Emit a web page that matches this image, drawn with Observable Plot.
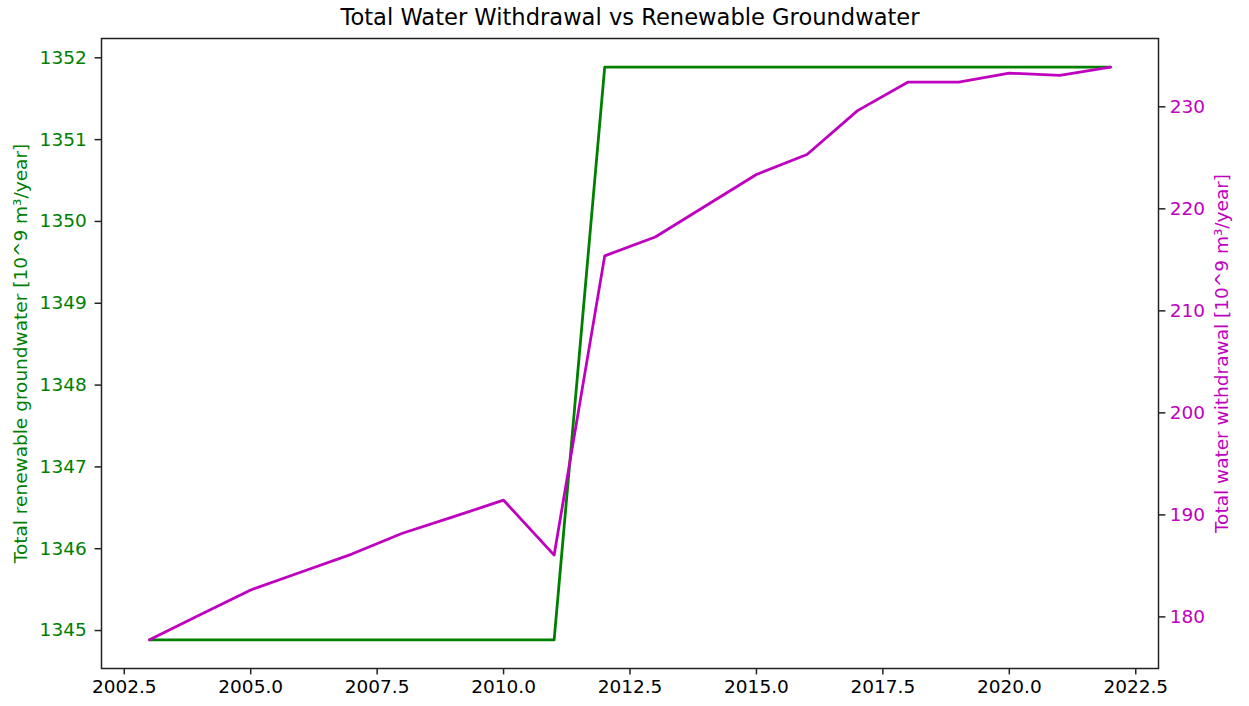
<!DOCTYPE html>
<html>
<head>
<meta charset="utf-8">
<script src="https://cdn.jsdelivr.net/npm/d3@7"></script>
<script src="https://cdn.jsdelivr.net/npm/@observablehq/plot@0.6"></script>
<style>
  html, body { margin: 0; padding: 0; background: #fff; }
  #chart svg { display: block; }
</style>
</head>
<body>
<div id="chart"></div>
<script>
// ---- Data ----
const years = [2003, 2004, 2005, 2006, 2007, 2008, 2009, 2010, 2011, 2012, 2013,
               2014, 2015, 2016, 2017, 2018, 2019, 2020, 2021, 2022];
const groundwater = [1344.886, 1344.886, 1344.886, 1344.886, 1344.886, 1344.886, 1344.886,
                     1344.886, 1344.886, 1351.886, 1351.886, 1351.886, 1351.886, 1351.886,
                     1351.886, 1351.886, 1351.886, 1351.886, 1351.886, 1351.886];
const withdrawal = [177.75, 180.2, 182.64, 184.4, 186.16, 188.2, 189.8, 191.44, 186.06,
                    215.39, 217.24, 220.3, 223.37, 225.33, 229.63, 232.43, 232.43,
                    233.3, 233.08, 233.89];
const xTicks = [2002.5, 2005.0, 2007.5, 2010.0, 2012.5, 2015.0, 2017.5, 2020.0, 2022.5];
const leftTicks = [1345, 1346, 1347, 1348, 1349, 1350, 1351, 1352];
const rightTicks = [180, 190, 200, 210, 220, 230];

const title = "Total Water Withdrawal vs Renewable Groundwater";
const leftLabel = "Total renewable groundwater [10^9 m³/year]";
const rightLabel = "Total water withdrawal [10^9 m³/year]";

// ---- Domains (matplotlib-style 5% margins) ----
const pad = (lo, hi) => [lo - (hi - lo) * 0.05, hi + (hi - lo) * 0.05];
const xDom = pad(d3.min(years), d3.max(years));
const lDom = pad(d3.min(groundwater), d3.max(groundwater));
const rDom = pad(d3.min(withdrawal), d3.max(withdrawal));

// map right-axis values into left-axis space
const toLeft = v => lDom[0] + (v - rDom[0]) * (lDom[1] - lDom[0]) / (rDom[1] - rDom[0]);
const toRight = v => rDom[0] + (v - lDom[0]) * (rDom[1] - rDom[0]) / (lDom[1] - lDom[0]);

const gwData = years.map((y, i) => ({year: y, value: groundwater[i]}));
const wdData = years.map((y, i) => ({year: y, value: toLeft(withdrawal[i])}));

const GREEN = "green";
const MAGENTA = "#bf00bf";
const FS = 18.5;
const TICK = 6.4;
const TPAD = 4.9;

const chart = Plot.plot({
  width: 1249,
  height: 706,
  marginLeft: 101,
  marginRight: 91,
  marginTop: 38,
  marginBottom: 38,
  style: {fontFamily: "DejaVu Sans", fontSize: FS + "px", background: "#fff", color: "#000"},
  x: {domain: xDom},
  y: {domain: lDom},
  marks: [
    // x axis
    Plot.axisX({ticks: xTicks, tickFormat: d => d.toFixed(1), tickSize: TICK, tickPadding: TPAD,
                strokeWidth: 1.5, fontSize: FS, label: null, fill: "#000", stroke: "#222"}),
    // left axis: ticks black, labels green
    Plot.axisY({ticks: leftTicks, anchor: "left", tickSize: TICK, tickPadding: TPAD + 3.5,
                tickFormat: d => String(d), label: null, strokeWidth: 1.5, stroke: "#222",
                fill: GREEN, fontSize: FS}),
    // right axis: ticks black, labels magenta
    Plot.axisY({ticks: rightTicks.map(toLeft), anchor: "right", tickSize: TICK, tickPadding: TPAD,
                tickFormat: d => String(Math.round(toRight(d))), label: null,
                strokeWidth: 1.5, stroke: "#222", fill: MAGENTA, fontSize: FS}),
    // lines
    Plot.line(gwData, {x: "year", y: "value", stroke: GREEN, strokeWidth: 2.8}),
    Plot.line(wdData, {x: "year", y: "value", stroke: MAGENTA, strokeWidth: 2.8}),
    // frame
    Plot.frame({stroke: "#222", strokeWidth: 1.5}),
    // axis titles
    Plot.text([leftLabel], {text: d => d, frameAnchor: "left", textAnchor: "middle", rotate: -90,
                            dx: -80, fill: GREEN, fontSize: FS}),
    Plot.text([rightLabel], {text: d => d, frameAnchor: "right", textAnchor: "middle", rotate: -90,
                             dx: 64, fill: MAGENTA, fontSize: FS}),
    // title
    Plot.text([title], {text: d => d, frameAnchor: "top", lineAnchor: "middle", dy: -21,
                        fill: "#000", fontSize: 22.6})
  ]
});
document.getElementById("chart").appendChild(chart);
</script>
</body>
</html>
